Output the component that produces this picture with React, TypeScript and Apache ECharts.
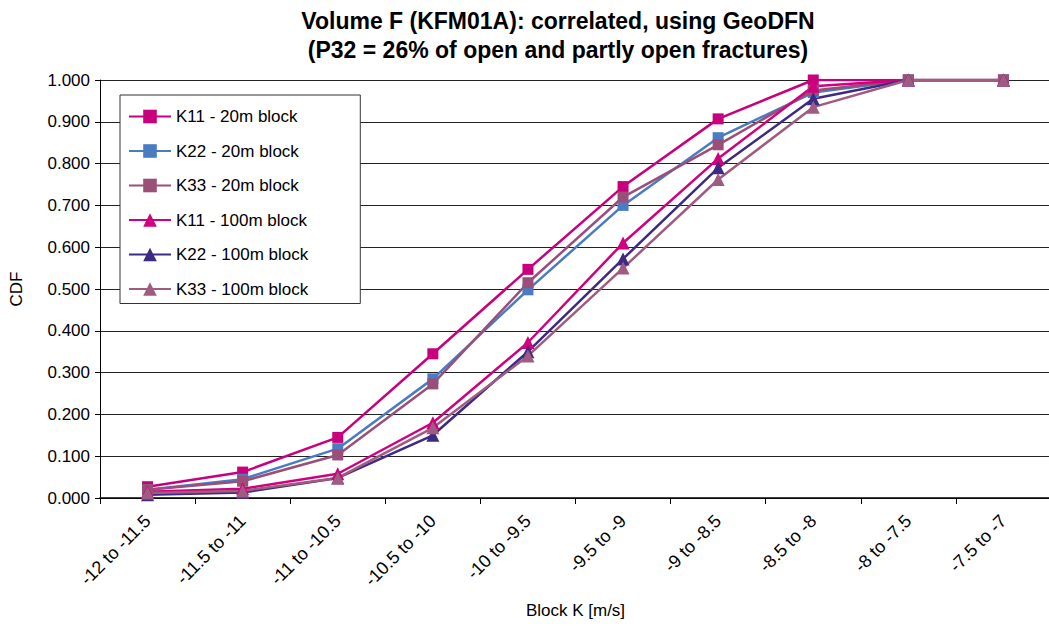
import React, { useEffect, useRef } from "react";
import * as echarts from "echarts";

const categories = [
  "-12 to -11.5", "-11.5 to -11", "-11 to -10.5", "-10.5 to -10", "-10 to -9.5",
  "-9.5 to -9", "-9 to -8.5", "-8.5 to -8", "-8 to -7.5", "-7.5 to -7",
];

const k11_20 = [0.027, 0.062, 0.145, 0.345, 0.547, 0.745, 0.907, 1.0, 1.0, 1.0];
const k22_20 = [0.02, 0.045, 0.118, 0.285, 0.498, 0.700, 0.862, 0.970, 1.0, 1.0];
const k33_20 = [0.02, 0.04, 0.103, 0.273, 0.515, 0.720, 0.845, 0.975, 1.0, 1.0];
const k11_100 = [0.015, 0.022, 0.058, 0.180, 0.372, 0.610, 0.812, 0.985, 1.0, 1.0];
const k22_100 = [0.008, 0.013, 0.048, 0.150, 0.350, 0.572, 0.790, 0.955, 1.0, 1.0];
const k33_100 = [0.012, 0.017, 0.048, 0.168, 0.340, 0.550, 0.762, 0.935, 1.0, 1.0];

const seriesDefs = [
  { name: "K11 - 20m block", data: k11_20, color: "#C8007C", symbol: "rect" },
  { name: "K22 - 20m block", data: k22_20, color: "#4A7CC2", symbol: "rect" },
  { name: "K33 - 20m block", data: k33_20, color: "#9A4E78", symbol: "rect" },
  { name: "K11 - 100m block", data: k11_100, color: "#D1007E", symbol: "triangle" },
  { name: "K22 - 100m block", data: k22_100, color: "#3C2A84", symbol: "triangle" },
  { name: "K33 - 100m block", data: k33_100, color: "#A05C80", symbol: "triangle" },
];

const FONT = "Liberation Sans, Arial, sans-serif";

export default function App() {
  const ref = useRef<HTMLDivElement>(null);

  useEffect(() => {
    if (!ref.current) return;
    const chart = echarts.init(ref.current, null, { renderer: "svg" });
    chart.setOption({
      animation: false,
      backgroundColor: "#ffffff",
      title: {
        text: "Volume F (KFM01A): correlated, using GeoDFN\n(P32 = 26% of open and partly open fractures)",
        left: 553,
        textAlign: "center",
        top: 1,
        textStyle: {
          fontFamily: FONT,
          fontWeight: "bold",
          fontSize: 23,
          lineHeight: 29,
          color: "#000",
        },
      },
      legend: {
        orient: "vertical",
        left: 120,
        top: 95,
        padding: [13, 52, 6, 8],
        itemGap: 17.5,
        itemWidth: 42,
        itemHeight: 17,
        backgroundColor: "#ffffff",
        borderColor: "#333",
        borderWidth: 1,
        textStyle: { fontFamily: FONT, fontSize: 17, color: "#000" },
        data: seriesDefs.map((s) => s.name),
      },
      grid: { left: 100, right: -2, top: 80, bottom: 128, outerBoundsMode: "none" },
      xAxis: {
        type: "category",
        data: categories,
        boundaryGap: true,
        name: "Block K [m/s]",
        nameLocation: "middle",
        nameGap: 104,
        nameTextStyle: { fontFamily: FONT, fontSize: 17, color: "#000" },
        axisLine: { lineStyle: { color: "#000", width: 1.5 } },
        axisTick: { show: true, length: 6, lineStyle: { color: "#000" } },
        axisLabel: {
          rotate: 45,
          interval: 0,
          margin: 20,
          fontFamily: FONT,
          fontSize: 18,
          color: "#000",
        },
      },
      yAxis: {
        type: "value",
        min: 0,
        max: 1,
        interval: 0.1,
        name: "CDF",
        nameLocation: "middle",
        nameGap: 75,
        nameRotate: 90,
        nameTextStyle: { fontFamily: FONT, fontSize: 17, color: "#000" },
        axisLine: { show: true, lineStyle: { color: "#000" } },
        axisTick: { show: true, length: 5, lineStyle: { color: "#000" } },
        axisLabel: {
          formatter: (v: number) => v.toFixed(3),
          fontFamily: FONT,
          fontSize: 17,
          color: "#000",
          margin: 10,
        },
        splitLine: { show: true, lineStyle: { color: "#222", width: 1 } },
      },
      series: seriesDefs.map((s) => ({
        name: s.name,
        type: "line",
        data: s.data,
        symbol: s.symbol,
        symbolSize: s.symbol === "rect" ? 11 : 13,
        showAllSymbol: true,
        lineStyle: { color: s.color, width: 2.5 },
        itemStyle: { color: s.color },
      })),
    });
    return () => chart.dispose();
  }, []);

  return (
    <div
      ref={ref}
      style={{ position: "fixed", left: 0, top: 0, width: 1049, height: 626 }}
    />
  );
}
